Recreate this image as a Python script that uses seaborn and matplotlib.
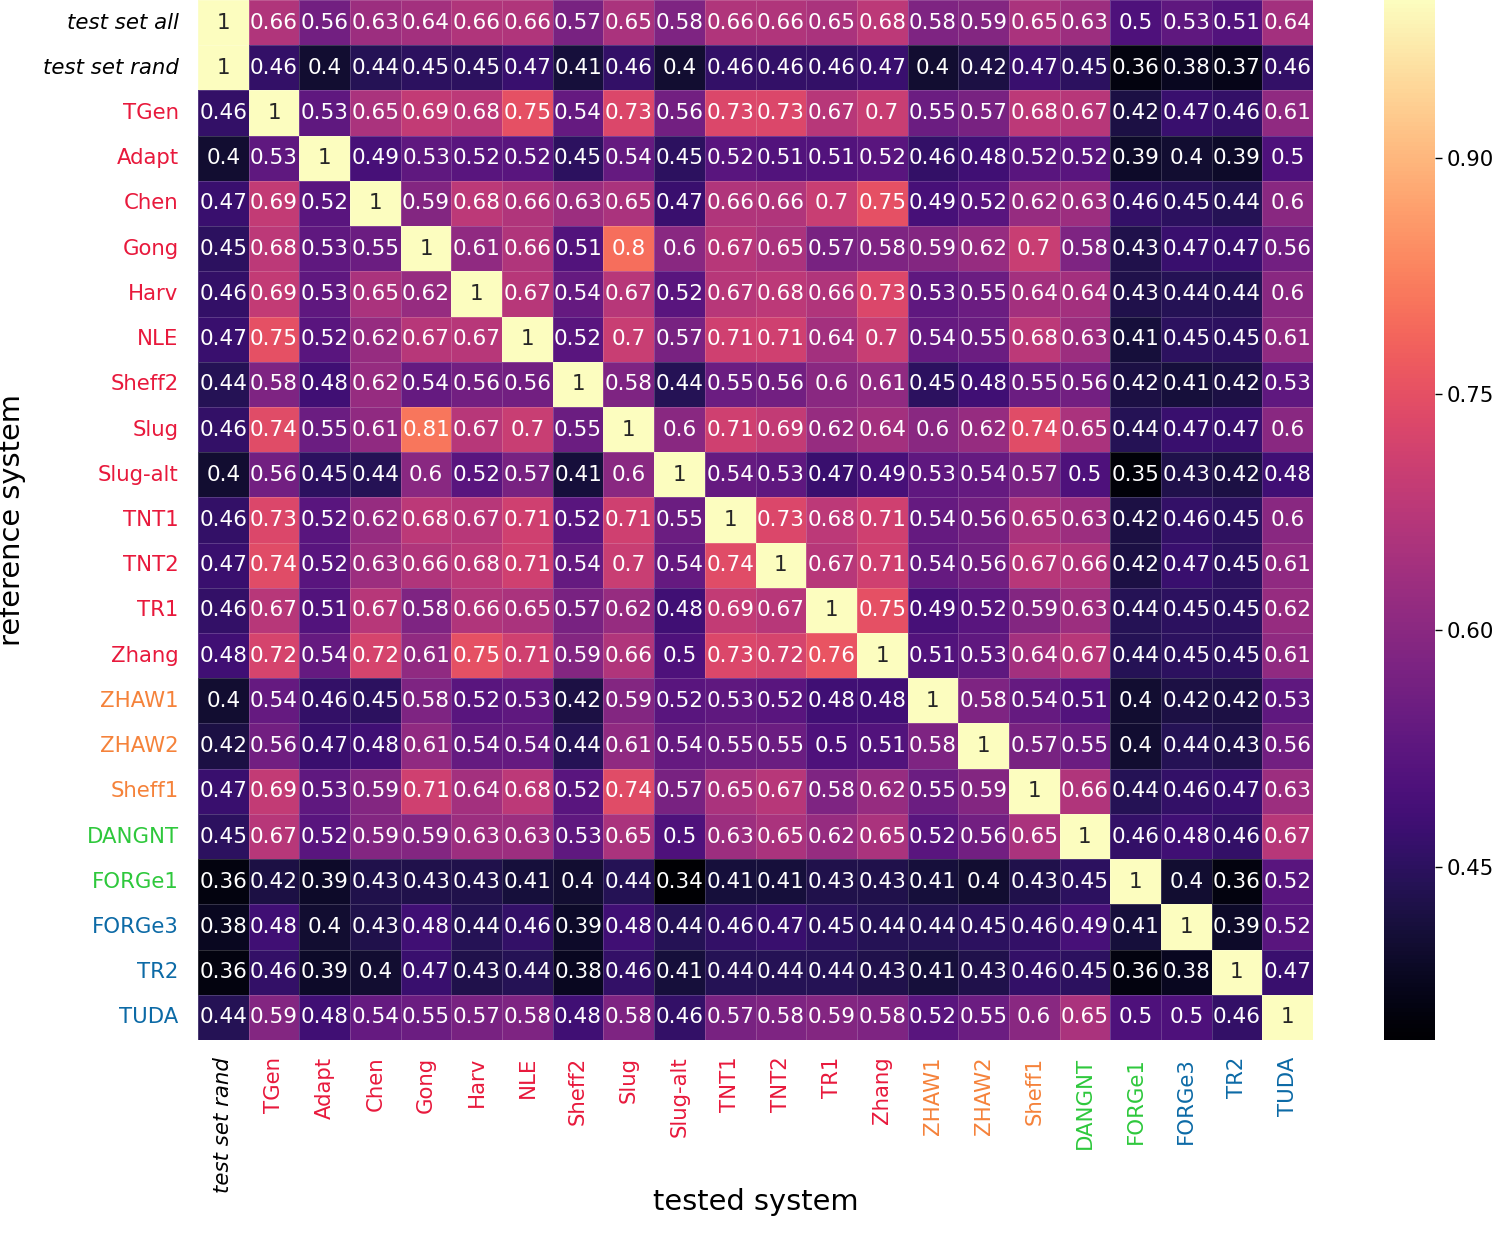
import numpy as np
import pandas as pd
import seaborn as sns
import matplotlib.pyplot as plt

# reference systems (rows) and tested systems (columns)
row_names = ['test set all', 'test set rand', 'TGen', 'Adapt', 'Chen', 'Gong', 'Harv', 'NLE',
             'Sheff2', 'Slug', 'Slug-alt', 'TNT1', 'TNT2', 'TR1', 'Zhang', 'ZHAW1', 'ZHAW2',
             'Sheff1', 'DANGNT', 'FORGe1', 'FORGe3', 'TR2', 'TUDA']
col_names = row_names[1:]

# label colour groups
red_group = ['TGen', 'Adapt', 'Chen', 'Gong', 'Harv', 'NLE', 'Sheff2', 'Slug', 'Slug-alt',
             'TNT1', 'TNT2', 'TR1', 'Zhang']
orange_group = ['ZHAW1', 'ZHAW2', 'Sheff1']
green_group = ['DANGNT', 'FORGe1']
blue_group = ['FORGe3', 'TR2', 'TUDA']

row_test_all = [1, .66, .56, .63, .64, .66, .66, .57, .65, .58, .66, .66, .65, .68, .58, .59, .65, .63, .5, .53, .51, .64]
row_test_rand = [1, .46, .4, .44, .45, .45, .47, .41, .46, .4, .46, .46, .46, .47, .4, .42, .47, .45, .36, .38, .37, .46]
row_tgen = [.46, 1, .53, .65, .69, .68, .75, .54, .73, .56, .73, .73, .67, .7, .55, .57, .68, .67, .42, .47, .46, .61]
row_adapt = [.4, .53, 1, .49, .53, .52, .52, .45, .54, .45, .52, .51, .51, .52, .46, .48, .52, .52, .39, .4, .39, .5]
row_chen = [.47, .69, .52, 1, .59, .68, .66, .63, .65, .47, .66, .66, .7, .75, .49, .52, .62, .63, .46, .45, .44, .6]
row_gong = [.45, .68, .53, .55, 1, .61, .66, .51, .8, .6, .67, .65, .57, .58, .59, .62, .7, .58, .43, .47, .47, .56]
row_harv = [.46, .69, .53, .65, .62, 1, .67, .54, .67, .52, .67, .68, .66, .73, .53, .55, .64, .64, .43, .44, .44, .6]
row_nle = [.47, .75, .52, .62, .67, .67, 1, .52, .7, .57, .71, .71, .64, .7, .54, .55, .68, .63, .41, .45, .45, .61]
row_sheff2 = [.44, .58, .48, .62, .54, .56, .56, 1, .58, .44, .55, .56, .6, .61, .45, .48, .55, .56, .42, .41, .42, .53]
row_slug = [.46, .74, .55, .61, .81, .67, .7, .55, 1, .6, .71, .69, .62, .64, .6, .62, .74, .65, .44, .47, .47, .6]
row_slug_alt = [.4, .56, .45, .44, .6, .52, .57, .41, .6, 1, .54, .53, .47, .49, .53, .54, .57, .5, .35, .43, .42, .48]
row_tnt1 = [.46, .73, .52, .62, .68, .67, .71, .52, .71, .55, 1, .73, .68, .71, .54, .56, .65, .63, .42, .46, .45, .6]
row_tnt2 = [.47, .74, .52, .63, .66, .68, .71, .54, .7, .54, .74, 1, .67, .71, .54, .56, .67, .66, .42, .47, .45, .61]
row_tr1 = [.46, .67, .51, .67, .58, .66, .65, .57, .62, .48, .69, .67, 1, .75, .49, .52, .59, .63, .44, .45, .45, .62]
row_zhang = [.48, .72, .54, .72, .61, .75, .71, .59, .66, .5, .73, .72, .76, 1, .51, .53, .64, .67, .44, .45, .45, .61]
row_zhaw1 = [.4, .54, .46, .45, .58, .52, .53, .42, .59, .52, .53, .52, .48, .48, 1, .58, .54, .51, .4, .42, .42, .53]
row_zhaw2 = [.42, .56, .47, .48, .61, .54, .54, .44, .61, .54, .55, .55, .5, .51, .58, 1, .57, .55, .4, .44, .43, .56]
row_sheff1 = [.47, .69, .53, .59, .71, .64, .68, .52, .74, .57, .65, .67, .58, .62, .55, .59, 1, .66, .44, .46, .47, .63]
row_dangnt = [.45, .67, .52, .59, .59, .63, .63, .53, .65, .5, .63, .65, .62, .65, .52, .56, .65, 1, .46, .48, .46, .67]
row_forge1 = [.36, .42, .39, .43, .43, .43, .41, .4, .44, .34, .41, .41, .43, .43, .41, .4, .43, .45, 1, .4, .36, .52]
row_forge3 = [.38, .48, .4, .43, .48, .44, .46, .39, .48, .44, .46, .47, .45, .44, .44, .45, .46, .49, .41, 1, .39, .52]
row_tr2 = [.36, .46, .39, .4, .47, .43, .44, .38, .46, .41, .44, .44, .44, .43, .41, .43, .46, .45, .36, .38, 1, .47]
row_tuda = [.44, .59, .48, .54, .55, .57, .58, .48, .58, .46, .57, .58, .59, .58, .52, .55, .6, .65, .5, .5, .46, 1]

rows = [row_test_all, row_test_rand, row_tgen, row_adapt, row_chen, row_gong, row_harv, row_nle,
        row_sheff2, row_slug, row_slug_alt, row_tnt1, row_tnt2, row_tr1, row_zhang, row_zhaw1,
        row_zhaw2, row_sheff1, row_dangnt, row_forge1, row_forge3, row_tr2, row_tuda]
df = pd.DataFrame(rows, index=row_names, columns=col_names)


def label_color(name):
    if name in red_group:
        return '#e8193c'
    if name in orange_group:
        return '#f5823a'
    if name in green_group:
        return '#2ec83c'
    if name in blue_group:
        return '#0c6aa6'
    return 'black'


fig = plt.figure(figsize=(14.95, 12.33), dpi=100)
ax = fig.add_axes([198 / 1495, 1 - 1040 / 1233, 1115 / 1495, 1040 / 1233])
cax = fig.add_axes([1384 / 1495, 1 - 1040 / 1233, 51 / 1495, 1040 / 1233])

sns.heatmap(df, ax=ax, cbar_ax=cax, cmap='magma', vmin=0.34, vmax=1.0,
            annot=True, annot_kws={'size': 15.5},
            linewidths=0.6, linecolor=(1, 1, 1, 0.18),
            cbar_kws={'ticks': [0.45, 0.60, 0.75, 0.90], 'format': '%.2f'})

ax.tick_params(axis='both', length=0, labelsize=15.3)
ax.tick_params(axis='y', pad=14)
ax.tick_params(axis='x', pad=12)
for t in ax.get_yticklabels():
    t.set_rotation(0)
    t.set_color(label_color(t.get_text()))
    if t.get_text().startswith('test set'):
        t.set_style('italic')
for t in ax.get_xticklabels():
    t.set_rotation(90)
    t.set_color(label_color(t.get_text()))
    if t.get_text().startswith('test set'):
        t.set_style('italic')

ax.set_xlabel('tested system', fontsize=20.8, labelpad=-3)
ax.set_ylabel('reference system', fontsize=20.8, labelpad=12)

cax.tick_params(labelsize=15.3, length=5, width=1)

fig.savefig('out.png', dpi=100)
